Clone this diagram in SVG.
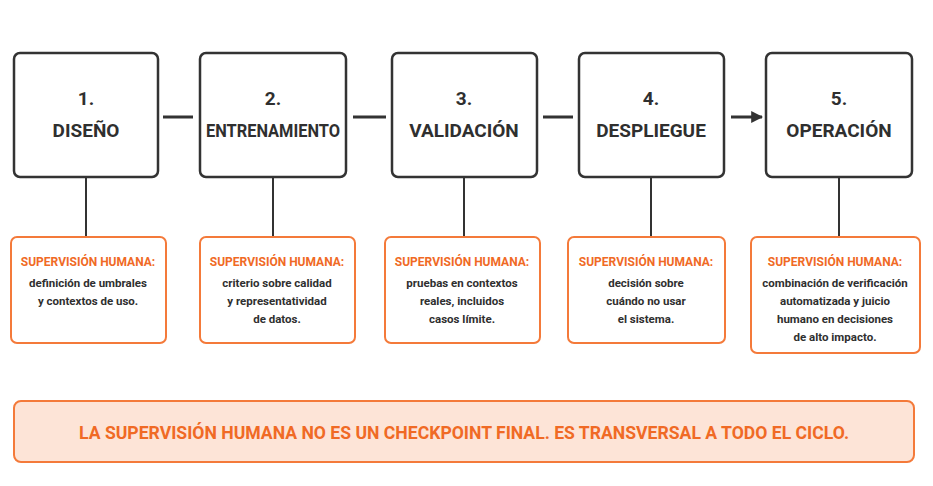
<svg xmlns="http://www.w3.org/2000/svg" width="933" height="486" viewBox="0 0 933 486">
<style>
.box{fill:#fff;stroke:#333;stroke-width:2.5}
.ob{fill:#fff;stroke:#f47a3a;stroke-width:2}
.t{font-family:Roboto,"Liberation Sans",sans-serif;font-weight:700;fill:#2f2f2f;text-anchor:middle}
.big{font-size:19px}
.ot{font-size:12px;fill:#f06a25}
.bt{font-size:11.5px}
.ln{stroke:#333;stroke-width:2;fill:none}
</style>
<defs><marker id="ah" viewBox="0 0 10 10" refX="9" refY="5" markerWidth="4" markerHeight="4" orient="auto"><path d="M0,0L10,5L0,10z" fill="#333"/></marker></defs>
<rect width="933" height="486" fill="#fff"/>
<g id="connectors">
<path class="ln" style="stroke-width:3" marker-end="url(#ah)" d="M163,117H193M353,117H386M543,117H573M731,117H762"/>
<path class="ln" d="M86,177V237M273,177V237M464,177V237M651,177V237M839,177V237"/>
</g>
<g id="n1"><rect class="box" x="14" y="53" width="144" height="124" rx="6"/><text class="t big" x="86" y="105">1.</text><text class="t big" x="86" y="137">DISEÑO</text></g>
<g id="n2"><rect class="box" x="200" y="53" width="146" height="124" rx="6"/><text class="t big" x="273" y="105">2.</text><text class="t big" x="273" y="137" textLength="134" lengthAdjust="spacingAndGlyphs">ENTRENAMIENTO</text></g>
<g id="n3"><rect class="box" x="392" y="53" width="145" height="124" rx="6"/><text class="t big" x="464" y="105">3.</text><text class="t big" x="464" y="137">VALIDACIÓN</text></g>
<g id="n4"><rect class="box" x="579" y="53" width="145" height="124" rx="6"/><text class="t big" x="651" y="105">4.</text><text class="t big" x="651" y="137">DESPLIEGUE</text></g>
<g id="n5"><rect class="box" x="766" y="53" width="146" height="124" rx="6"/><text class="t big" x="839" y="105">5.</text><text class="t big" x="839" y="137">OPERACIÓN</text></g>
<g id="s1"><rect class="ob" x="11" y="237" width="155" height="106" rx="6"/><text class="t ot" x="88" y="266">SUPERVISIÓN HUMANA:</text><text class="t bt" x="88" y="287">definición de umbrales</text><text class="t bt" x="88" y="305">y contextos de uso.</text></g>
<g id="s2"><rect class="ob" x="200" y="237" width="155" height="106" rx="6"/><text class="t ot" x="277" y="266">SUPERVISIÓN HUMANA:</text><text class="t bt" x="277" y="287">criterio sobre calidad</text><text class="t bt" x="277" y="305">y representatividad</text><text class="t bt" x="277" y="323">de datos.</text></g>
<g id="s3"><rect class="ob" x="385" y="237" width="155" height="106" rx="6"/><text class="t ot" x="462" y="266">SUPERVISIÓN HUMANA:</text><text class="t bt" x="462" y="287">pruebas en contextos</text><text class="t bt" x="462" y="305">reales, incluidos</text><text class="t bt" x="462" y="323">casos límite.</text></g>
<g id="s4"><rect class="ob" x="568" y="237" width="157" height="106" rx="6"/><text class="t ot" x="646" y="266">SUPERVISIÓN HUMANA:</text><text class="t bt" x="646" y="287">decisión sobre</text><text class="t bt" x="646" y="305">cuándo no usar</text><text class="t bt" x="646" y="323">el sistema.</text></g>
<g id="s5"><rect class="ob" x="751" y="237" width="169" height="116" rx="6"/><text class="t ot" x="835" y="266">SUPERVISIÓN HUMANA:</text><text class="t bt" x="835" y="287">combinación de verificación</text><text class="t bt" x="835" y="305">automatizada y juicio</text><text class="t bt" x="835" y="323">humano en decisiones</text><text class="t bt" x="835" y="341">de alto impacto.</text></g>
<g id="banner"><rect x="14" y="401" width="900" height="61" rx="7" fill="#fde4d7" stroke="#f47a3a" stroke-width="2"/><text class="t" x="464" y="439" style="font-size:18px;fill:#f06a25" textLength="770" lengthAdjust="spacingAndGlyphs">LA SUPERVISIÓN HUMANA NO ES UN CHECKPOINT FINAL. ES TRANSVERSAL A TODO EL CICLO.</text></g>
</svg>
